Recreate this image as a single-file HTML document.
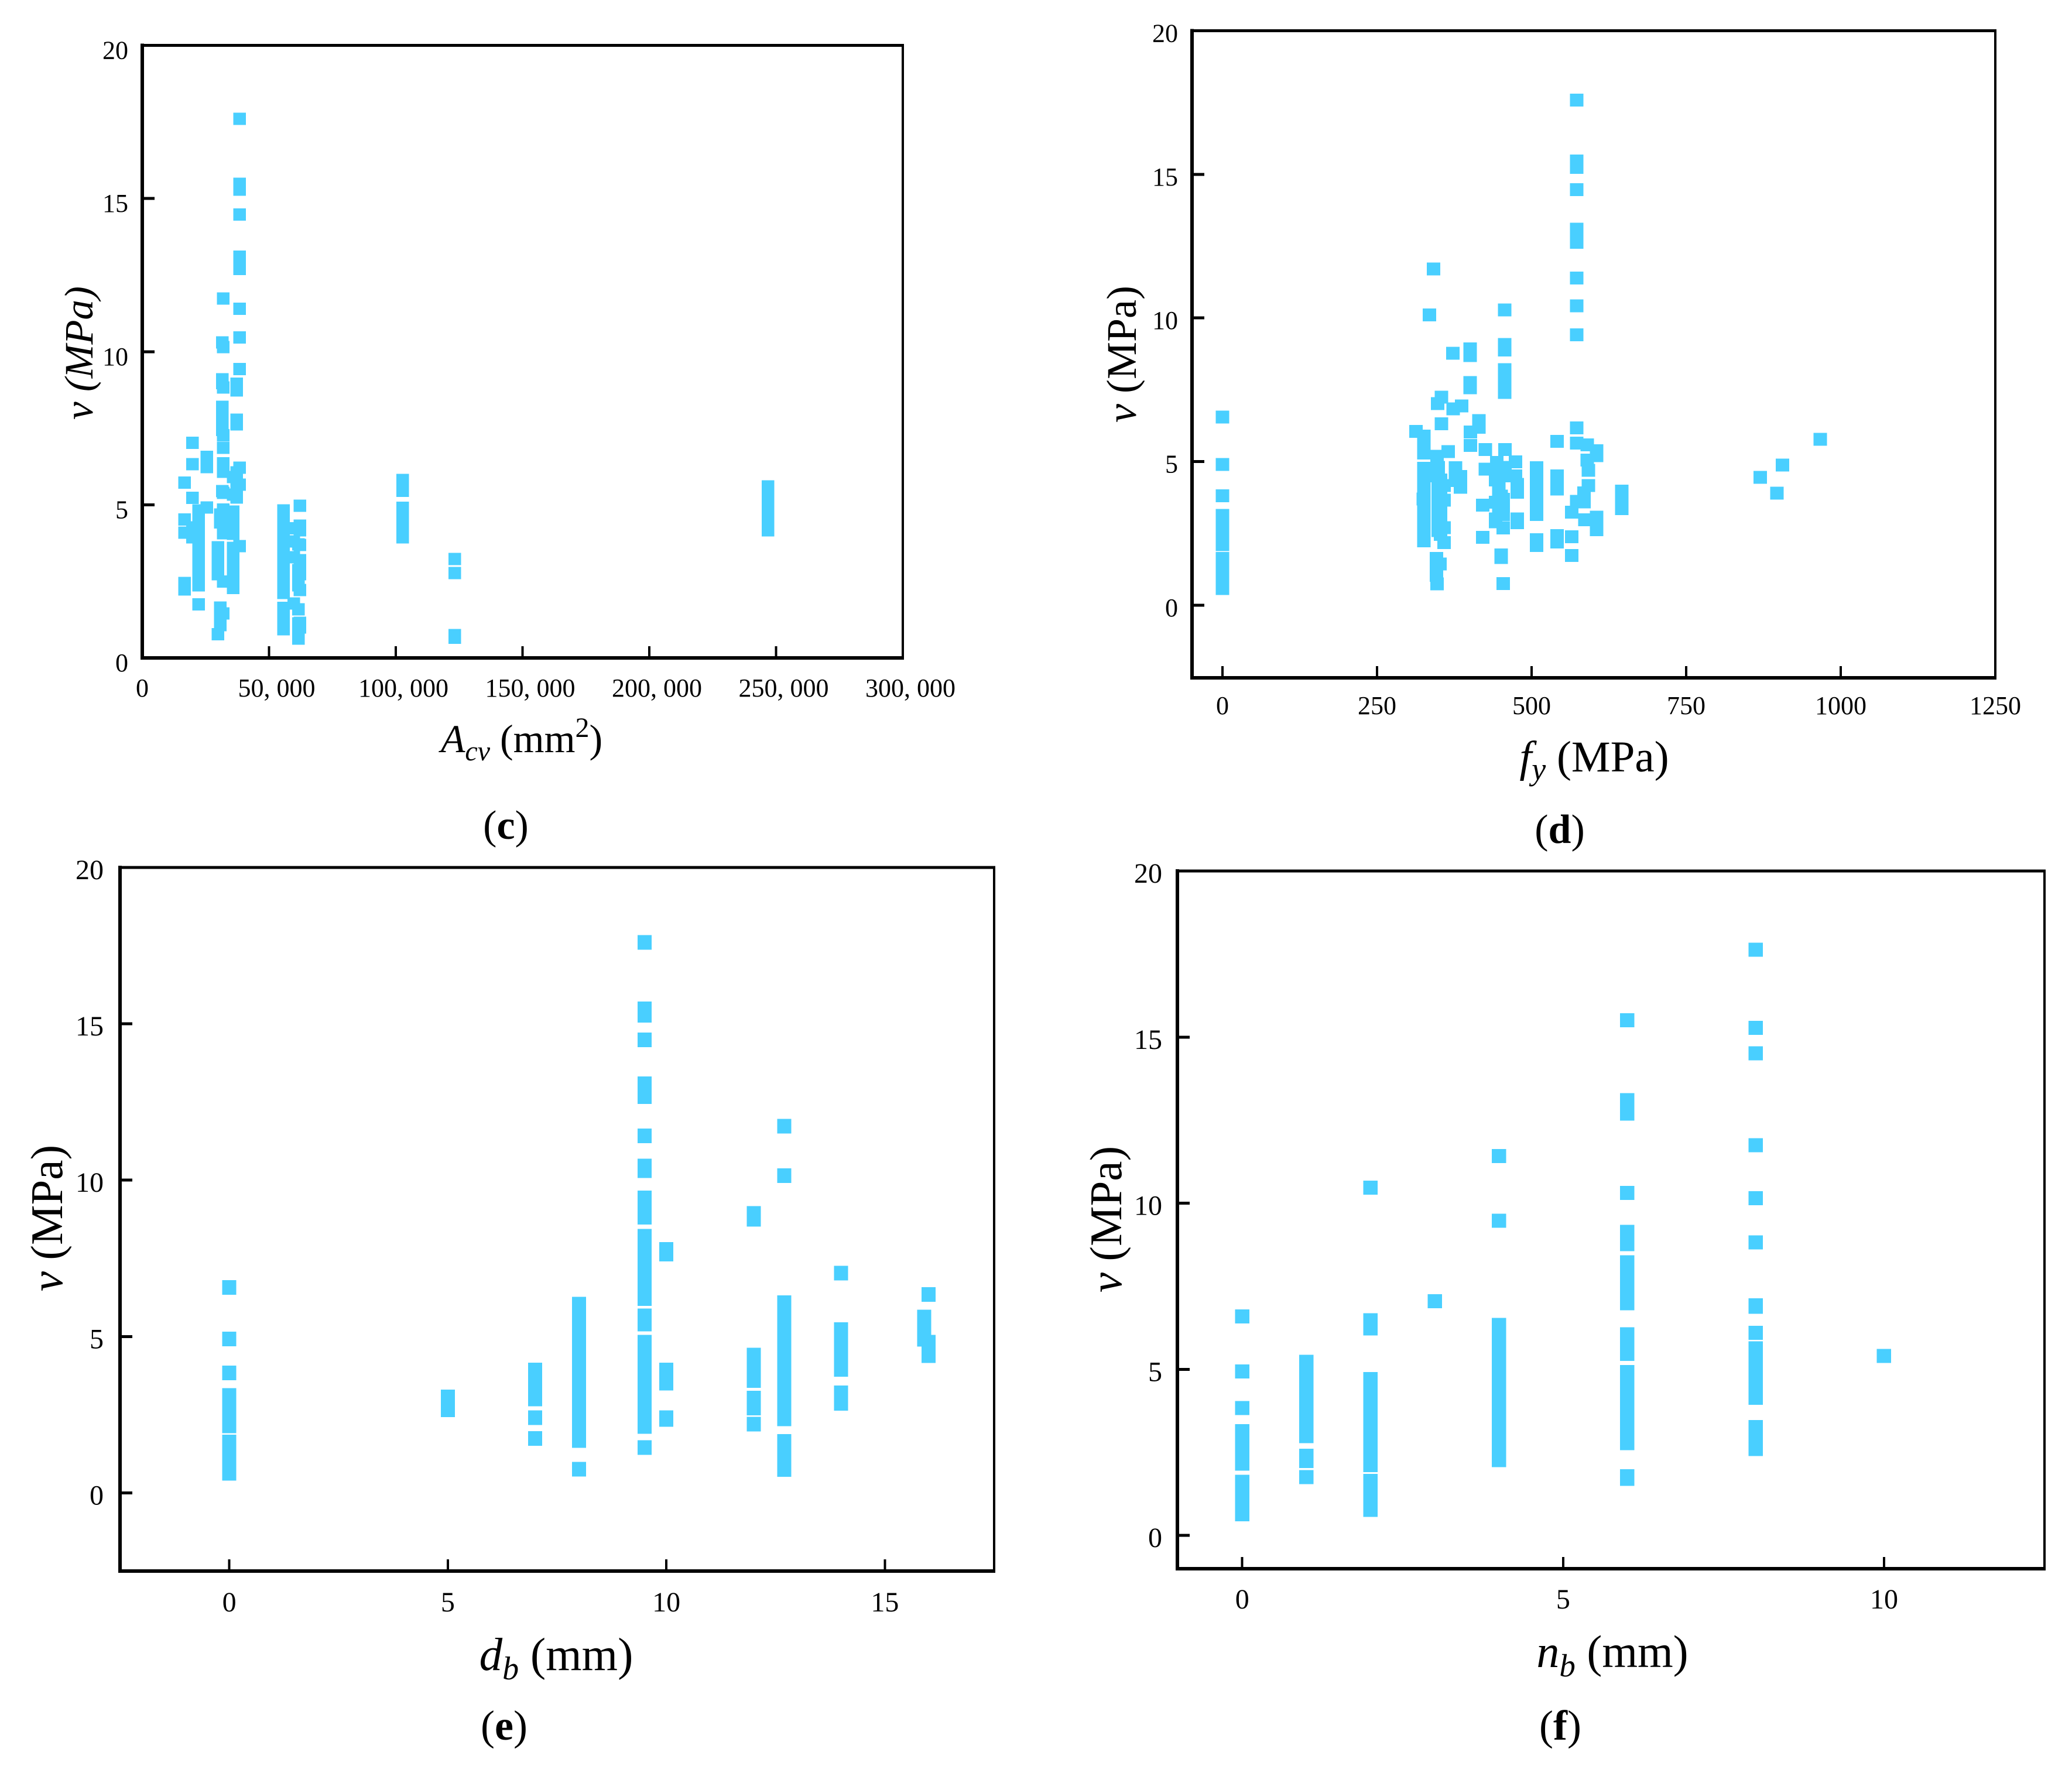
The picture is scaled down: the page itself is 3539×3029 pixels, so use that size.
<!DOCTYPE html>
<html lang="en">
<head>
<meta charset="utf-8">
<title>Shear stress scatter panels</title>
<style>
html,body{margin:0;padding:0;background:#fff;}
svg{display:block;}
text{font-family:"Liberation Serif",serif;fill:#000;}
</style>
</head>
<body>
<svg id="chart" xmlns="http://www.w3.org/2000/svg" width="3539" height="3029" viewBox="0 0 3539 3029">
  <rect x="0" y="0" width="3539" height="3029" fill="#ffffff"/>
  <g id="panel-c"></g>
  <g id="panel-d"></g>
  <g id="panel-e"></g>
  <g id="panel-f"></g>

  <text transform="translate(158 603) rotate(-90)" text-anchor="middle" font-size="69" font-style="italic">v (MPa)</text>
  <text x="891" y="1285" text-anchor="middle" font-size="68"><tspan font-style="italic">A</tspan><tspan font-style="italic" font-size="48" dy="14">cv</tspan><tspan dy="-14"> (mm</tspan><tspan font-size="48" dy="-26">2</tspan><tspan dy="26">)</tspan></text>
  <text x="864" y="1433" text-anchor="middle" font-size="70">(<tspan font-weight="bold">c</tspan>)</text>

  <text transform="translate(1940 605) rotate(-90)" text-anchor="middle" font-size="72"><tspan font-style="italic">v</tspan> (MPa)</text>
  <text x="2723" y="1318" text-anchor="middle" font-size="75"><tspan font-style="italic">f</tspan><tspan font-style="italic" font-size="54" dy="14">y</tspan><tspan dy="-14"> (MPa)</tspan></text>
  <text x="2664" y="1440" text-anchor="middle" font-size="70">(<tspan font-weight="bold">d</tspan>)</text>

  <text transform="translate(106 2081) rotate(-90)" text-anchor="middle" font-size="77"><tspan font-style="italic">v</tspan> (MPa)</text>
  <text x="950" y="2853" text-anchor="middle" font-size="79"><tspan font-style="italic">d</tspan><tspan font-style="italic" font-size="56" dy="16">b</tspan><tspan dy="-16"> (mm)</tspan></text>
  <text x="861" y="2972" text-anchor="middle" font-size="72">(<tspan font-weight="bold">e</tspan>)</text>

  <text transform="translate(1915 2083) rotate(-90)" text-anchor="middle" font-size="77"><tspan font-style="italic">v</tspan> (MPa)</text>
  <text x="2754" y="2848" text-anchor="middle" font-size="78"><tspan font-style="italic">n</tspan><tspan font-style="italic" font-size="55" dy="16">b</tspan><tspan dy="-16"> (mm)</tspan></text>
  <text x="2665" y="2972" text-anchor="middle" font-size="72">(<tspan font-weight="bold">f</tspan>)</text>
</svg>
<script>
/* ---------- panel (c): Acv vs v ---------- */
const cXValues = [16670,19814,22234,25459,29837,30758,31565,31910,35827,37210,38362,55757,59789,61632,62208,102700,123270,246850];
const cVValues = [
  [5.72,4.52,4.09,2.45,2.24],
  [7.02,6.33,5.23,4.26,3.94],
  [4.82,4.5,4.2,3.9,3.6,3.3,3.0,2.7,2.37,1.75],
  [6.56,6.23,4.91],
  [3.61,3.4,3.2,2.95,2.73,0.77],
  [4.68,4.42,1.64,1.35,1.07],
  [10.3,9.1,8.97,8.2,7.9,7.6,7.44,5.45],
  [11.73,10.15,8.83,7.27,6.86,6.35,6.08,5.39,4.84,4.6,4.4,4.07,2.49,1.45],
  [5.91,5.33,4.78,4.4,4.05,3.59,3.2,2.85,2.55,2.28],
  [8.95,8.73,7.78,7.63,6.06,5.6,5.24],
  [17.6,15.48,15.29,14.48,13.1,12.9,12.7,11.4,10.46,9.43,6.21,5.66,3.65],
  [4.82,4.5,4.2,3.9,3.6,3.3,3.0,2.7,2.4,2.12,1.63,1.3,0.94],
  [4.23,3.8,3.29,1.78],
  [3.71,2.87,2.6,2.37,1.59,1.13,0.9,0.63],
  [4.97,4.32,4.17,3.69,3.19,3.0,2.73,2.22,1.15,0.99],
  [5.81,5.46,4.9,4.55,4.25,3.94],
  [3.23,2.77,0.75,0.66],
  [5.6,5.2,4.8,4.5,4.17]
];
const cXTicks = [0,50000,100000,150000,200000,250000,300000];
const cXTickLabels = ['0','50, 000','100, 000','150, 000','200, 000','250, 000','300, 000'];
const cYTicks = [0,5,10,15,20];
const cYTickLabels = ['0','5','10','15','20'];

/* ---------- panel (d): fy vs v ---------- */
const dXValues = [0,313,326,325,335,341.6,346,347,348,349,351.6,352.6,354,358.6,365,372.8,373,377,385,387,400.8,401,415,421,425,441.8,443.7,447,451,454,456.5,457,474,477,508,541,565,573,585,586,590,592,605,646,870,897,906,967];
const dVValues = [
  [6.55,4.9,3.81,3.12,2.8,2.45,2.11,1.63,1.3,0.95,0.58],
  [6.05],
  [5.89,5.6,5.3,4.77,4.4,4.0,3.6,3.2,2.8,2.5,2.24],
  [3.7],
  [10.1],
  [11.7],
  [1.63,1.35,1.04],
  [5.18,4.9,4.5,0.74],
  [7.02],
  [4.8,4.4,4.0,3.6,3.2,2.9,2.6],
  [1.43],
  [4.36,4.0,3.6,3.2,2.8,2.46],
  [7.24,6.31],
  [4.16,3.65,2.7,2.18],
  [5.35],
  [8.77],
  [6.83],
  [4.79,4.34],
  [4.48,4.1],
  [6.94],
  [8.92,8.69,7.75,7.57],
  [6.03,5.56],
  [6.43,6.19],
  [3.48,2.36],
  [5.42,4.73],
  [4.36,3.58,3.0,2.9],
  [4.97,4.6],
  [4.2,3.8,3.15],
  [3.8,1.75,1.66],
  [3.69,3.42,3.15,2.69,0.75],
  [10.28,9.08,8.88,8.2,7.8,7.4],
  [5.42,4.8,4.5],
  [4.99,4.5],
  [4.2,3.93,3.0,2.87],
  [4.79,4.4,4.0,3.6,3.36,3.16,2.28,2.08],
  [5.7,4.5,4.25,4.04,2.42,2.2],
  [3.24,2.38,1.73],
  [17.58,15.46,15.24,14.47,13.09,12.9,12.63,11.39,10.42,9.41,6.17,5.64,3.61],
  [3.91,3.59],
  [2.97],
  [5.58,5.05],
  [4.69,4.16],
  [5.38,5.2,3.06,2.63],
  [3.97,3.7,3.36],
  [4.45],
  [3.9],
  [4.88],
  [5.77]
];
const dXTicks = [0,250,500,750,1000,1250];
const dXTickLabels = ['0','250','500','750','1000','1250'];
const dYTicks = [0,5,10,15,20];
const dYTickLabels = ['0','5','10','15','20'];

/* ---------- panel (e): db vs v ---------- */
const eXValues = [0,5,7,8,9.5,10,12,12.7,14,15.9,16];
const eVValues = [
  [6.57,4.92,3.84,3.12,2.8,2.45,2.14,1.63,1.3,0.95,0.63],
  [3.07,2.66],
  [3.93,3.6,3.3,3.0,2.4,1.74],
  [6.04,5.6,5.2,4.8,4.4,4.0,3.6,3.2,2.8,2.4,2.0,1.67,0.76],
  [17.6,15.48,15.27,14.49,13.08,12.9,12.67,11.42,10.45,10.3,9.43,9.1,8.82,8.21,7.8,7.4,7.0,6.6,6.21,5.66,5.4,4.82,4.4,4.0,3.6,3.2,2.8,2.45,2.12,1.45],
  [7.79,7.64,3.93,3.51,2.4,2.35],
  [8.94,8.75,4.41,4.0,3.59,3.03,2.71,2.2],
  [11.73,10.14,6.08,5.7,5.3,4.9,4.5,4.1,3.7,3.3,2.9,2.6,2.37,1.65,1.3,1.0,0.75],
  [7.03,5.22,4.8,4.4,3.95,3.2,2.86],
  [5.62,5.3,4.91],
  [6.34,4.82,4.6,4.39]
];
const eXTicks = [0,5,10,15];
const eXTickLabels = ['0','5','10','15'];
const eYTicks = [0,5,10,15,20];
const eYTickLabels = ['0','5','10','15','20'];

/* ---------- panel (f): nb vs v ---------- */
const fXValues = [0,1,2,3,4,6,8,10];
const fVValues = [
  [6.59,4.94,3.84,3.14,2.8,2.48,2.16,1.62,1.3,0.97,0.64],
  [5.23,4.9,4.55,4.2,3.85,3.5,3.2,2.99,2.4,2.24,1.76],
  [10.47,6.48,6.23,4.71,4.35,4.0,3.65,3.3,2.95,2.6,2.35,2.12,1.64,1.35,1.05,0.77],
  [7.05],
  [11.42,9.47,6.34,6.0,5.65,5.3,4.95,4.6,4.25,3.9,3.55,3.2,2.9,2.6,2.27],
  [15.51,13.1,12.9,12.7,10.31,9.14,8.77,8.22,7.9,7.6,7.3,6.99,6.06,5.75,5.47,4.92,4.55,4.2,3.85,3.5,3.15,2.78,1.78,1.7],
  [17.63,15.28,14.51,11.75,10.15,8.82,6.93,6.88,6.1,5.63,5.3,5.0,4.7,4.4,4.14,3.26,2.95,2.6],
  [5.4]
];
const fXTicks = [0,5,10];
const fXTickLabels = ['0','5','10'];
const fYTicks = [0,5,10,15,20];
const fYTickLabels = ['0','5','10','15','20'];

/* ---------- layout (not data) ---------- */
const SVG_NS = 'http://www.w3.org/2000/svg';
const MARKER_COLOR = '#49CFFF';

const panels = [
  { id:'c', xv:cXValues, vv:cVValues, xt:cXTicks, xl:cXTickLabels, yt:cYTicks, yl:cYTickLabels,
    L:243, R:1542, T:77.5, B:1124, xMin:0, xMax:300000, yMin:0, yMax:20,
    mw:21.5, mh:21, font:44, xBase:1190, yRight:219, yDy:23, xDx:13 },
  { id:'d', xv:dXValues, vv:dVValues, xt:dXTicks, xl:dXTickLabels, yt:dYTicks, yl:dYTickLabels,
    L:2036, R:3408, T:52.4, B:1158, xMin:-49.2, xMax:1250, yMin:-2.53, yMax:20,
    mw:23, mh:22, font:44, xBase:1220, yRight:2012, yDy:19, xDx:0 },
  { id:'e', xv:eXValues, vv:eVValues, xt:eXTicks, xl:eXTickLabels, yt:eYTicks, yl:eYTickLabels,
    L:205, R:1698, T:1482, B:2684, xMin:-2.5, xMax:17.5, yMin:-2.5, yMax:20,
    mw:24, mh:25, font:48, xBase:2753, yRight:177, yDy:20, xDx:0 },
  { id:'f', xv:fXValues, vv:fVValues, xt:fXTicks, xl:fXTickLabels, yt:fYTicks, yl:fYTickLabels,
    L:2011, R:3492, T:1488, B:2680, xMin:-1.01, xMax:12.5, yMin:-1, yMax:20,
    mw:24.5, mh:24, font:48, xBase:2748, yRight:1985, yDy:20, xDx:0 }
];

function xScale(p, value) {
  return p.L + (value - p.xMin) / (p.xMax - p.xMin) * (p.R - p.L);
}
function yScale(p, value) {
  return p.B - (value - p.yMin) / (p.yMax - p.yMin) * (p.B - p.T);
}

function drawLine(group, x1, y1, x2, y2, width) {
  const line = document.createElementNS(SVG_NS, 'line');
  line.setAttribute('x1', x1);
  line.setAttribute('y1', y1);
  line.setAttribute('x2', x2);
  line.setAttribute('y2', y2);
  line.setAttribute('stroke', '#000');
  line.setAttribute('stroke-width', width);
  line.setAttribute('shape-rendering', 'crispEdges');
  group.appendChild(line);
  return line;
}

function drawPanel(p) {
  const group = document.getElementById('panel-' + p.id);

  /* markers */
  p.xv.forEach(function (xValue, i) {
    p.vv[i].forEach(function (v) {
      const mark = document.createElementNS(SVG_NS, 'rect');
      
      
      mark.setAttribute('x', xScale(p, xValue) - p.mw / 2);
      mark.setAttribute('y', yScale(p, v) - p.mh / 2);
      mark.setAttribute('width', p.mw);
      mark.setAttribute('height', p.mh);
      mark.setAttribute('fill', MARKER_COLOR);
      mark.setAttribute('shape-rendering', 'crispEdges');
      group.appendChild(mark);
    });
  });

  /* frame */
  const left = drawLine(group, p.L, p.T - 3, p.L, p.B + 3, 6);
  
  
  const bottom = drawLine(group, p.L, p.B, p.R + 2, p.B, 6);
  
  
  const top = drawLine(group, p.L, p.T, p.R + 2, p.T, 5);
  
  
  const right = drawLine(group, p.R, p.T - 2, p.R, p.B + 2, 4);
  
  

  /* x ticks */
  p.xt.forEach(function (tick, i) {
    const x = xScale(p, tick);
    const mark = drawLine(group, x, p.B, x, p.B - 20, 4);
    
    
    const label = document.createElementNS(SVG_NS, 'text');
    
    
    label.setAttribute('x', x + (tick === 0 ? 0 : p.xDx));
    label.setAttribute('y', p.xBase);
    label.setAttribute('text-anchor', 'middle');
    label.setAttribute('font-size', p.font);
    label.textContent = p.xl[i];
    group.appendChild(label);
  });

  /* y ticks */
  p.yt.forEach(function (tick, i) {
    const y = yScale(p, tick);
    const mark = drawLine(group, p.L, y, p.L + 21, y, 5);
    
    
    const label = document.createElementNS(SVG_NS, 'text');
    
    
    label.setAttribute('x', p.yRight);
    label.setAttribute('y', y + p.yDy);
    label.setAttribute('text-anchor', 'end');
    label.setAttribute('font-size', p.font);
    label.textContent = p.yl[i];
    group.appendChild(label);
  });
}

panels.forEach(drawPanel);
</script>
</body>
</html>
